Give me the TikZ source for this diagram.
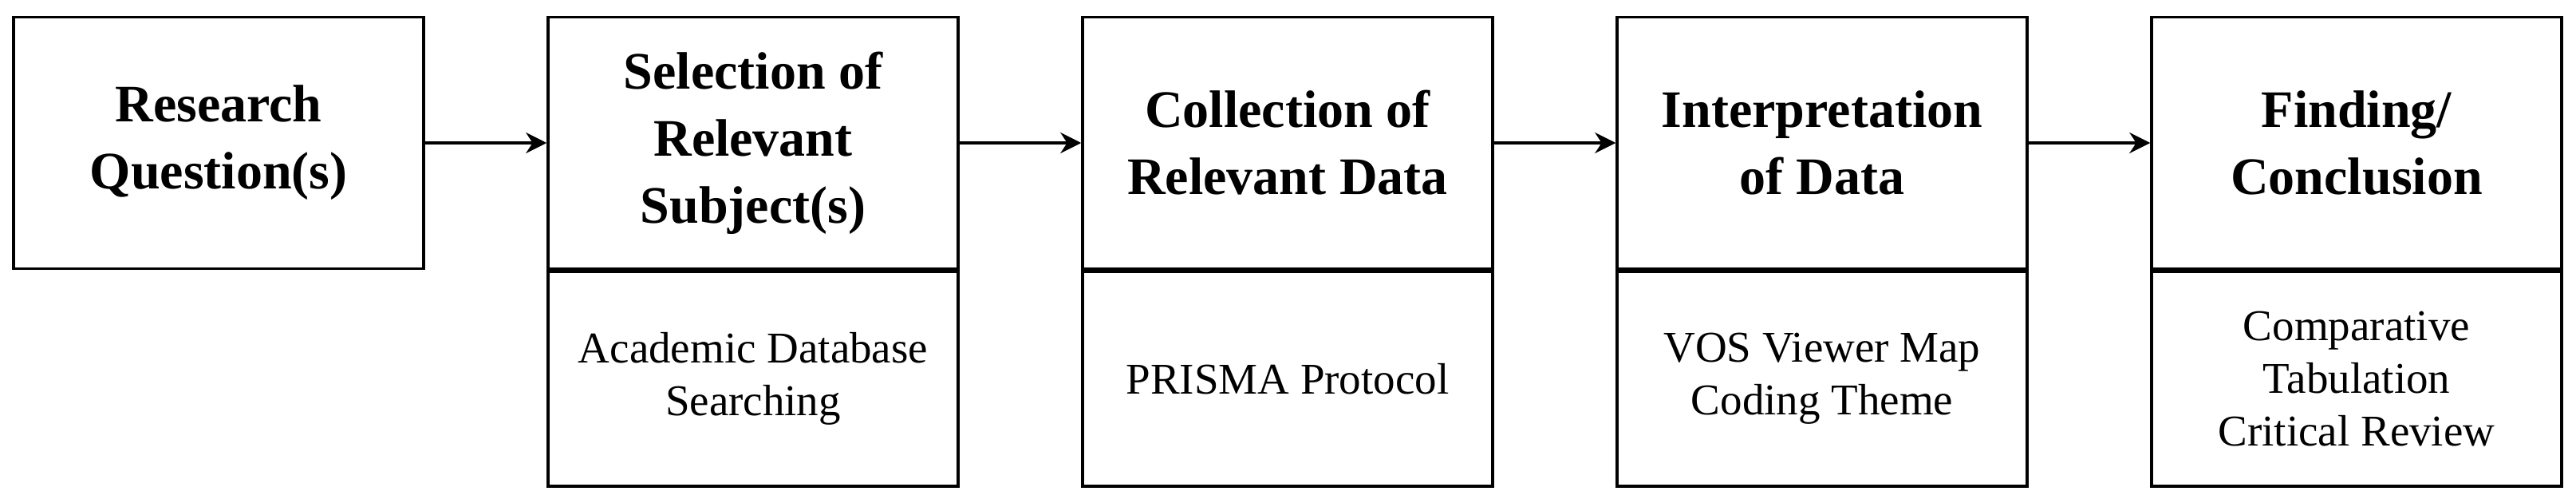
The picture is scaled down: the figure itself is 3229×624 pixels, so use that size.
\documentclass[tikz,border=0pt]{standalone}
\usepackage{fontspec}
\setmainfont{Liberation Serif}
\usetikzlibrary{arrows.meta}
\begin{document}
\begin{tikzpicture}[x=1pt,y=-1pt,
  box/.style={draw,line width=3.5pt,minimum width=514pt,align=center,inner sep=0pt},
  top/.style={box,minimum height=315pt,font=\fontsize{66}{84}\selectfont\bfseries},
  bot/.style={box,minimum height=269pt,font=\fontsize{55}{66}\selectfont},
  arr/.style={line width=4pt,-{Stealth[length=26pt,width=26pt]}}]
\useasboundingbox (0,0) rectangle (3229,624);
\node[top] (t1) at (274,179) {Research\\Question(s)};
\node[top] (t2) at (944,179) {Selection of\\Relevant\\Subject(s)};
\node[top] (t3) at (1614,179) {Collection of\\Relevant Data};
\node[top] (t4) at (2284,179) {Interpretation\\of Data};
\node[top] (t5) at (2954,179) {Finding/\\Conclusion};
\node[bot,anchor=north] (b2) at (t2.south) {Academic Database\\Searching};
\node[bot,anchor=north] (b3) at (t3.south) {PRISMA Protocol};
\node[bot,anchor=north] (b4) at (t4.south) {VOS Viewer Map\\Coding Theme};
\node[bot,anchor=north] (b5) at (t5.south) {Comparative\\Tabulation\\Critical Review};
\draw[arr] (t1) -- (t2);
\draw[arr] (t2) -- (t3);
\draw[arr] (t3) -- (t4);
\draw[arr] (t4) -- (t5);
\end{tikzpicture}
\end{document}
